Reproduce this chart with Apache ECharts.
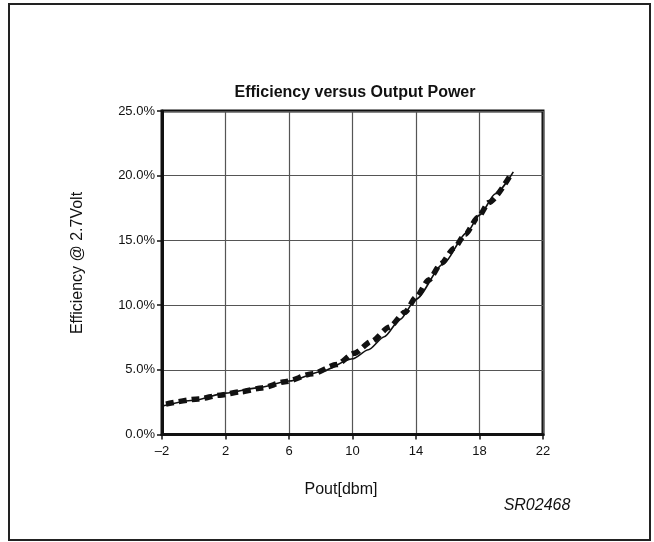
<!DOCTYPE html>
<html>
<head>
<meta charset="utf-8">
<script src="https://cdn.jsdelivr.net/npm/echarts@6/dist/echarts.min.js"></script>
<style>
  html, body { margin: 0; padding: 0; background: #fff; }
  #chart { width: 654px; height: 542px; }
</style>
</head>
<body>
<div id="chart"></div>
<script>
// measured curve (solid) and datasheet curve (thick dashed), efficiency in %
const solidPoints = [
  [-2.38, 2.07], [0, 2.65], [2, 3.2], [4, 3.6], [6, 4.13], [8, 4.85],
  [10, 5.85], [11, 6.55], [12, 7.55], [13, 8.9], [14, 10.45], [15.7, 13.16],
  [17.2, 15.6], [18, 16.95], [19, 18.6], [20.13, 20.3]
];
const dashedPoints = [
  [-1.75, 2.35], [0.3, 2.75], [1.65, 3.04], [2.95, 3.3], [4.3, 3.6],
  [5.75, 4.08], [7.5, 4.7], [9.0, 5.4], [10.1, 6.27], [11.2, 7.2],
  [12.3, 8.28], [13.3, 9.44], [14.0, 10.6], [14.8, 11.94], [15.6, 13.23],
  [16.4, 14.4], [17.1, 15.48], [17.9, 16.77], [18.6, 17.93], [19.9, 19.95]
];
const xTicks = { min: -2, max: 22, step: 4 };
const yTicks = { min: 0, max: 25, step: 5 };
const titleText = "Efficiency versus Output Power";
const xName = "Pout[dbm]";
const yName = "Efficiency @ 2.7Volt";
const figCode = "SR02468";

const chart = echarts.init(document.getElementById("chart"));
const font = "Liberation Sans, Arial, sans-serif";

chart.setOption({
  animation: false,
  backgroundColor: "#fff",
  title: {
    text: titleText,
    left: 350, top: 80,
    textAlign: "center",
    textStyle: { fontFamily: font, fontSize: 16, fontWeight: "bold", color: "#111" }
  },
  grid: {
    left: 162, right: 111, top: 111, bottom: 107.5,
    show: true, borderColor: "#111", borderWidth: 3
  },
  xAxis: {
    type: "value",
    min: xTicks.min, max: xTicks.max, interval: xTicks.step,
    axisLine: { onZero: false, lineStyle: { color: "#111", width: 3 } },
    axisTick: { show: true, length: 5, lineStyle: { color: "#111", width: 1.5 } },
    axisLabel: {
      margin: 10, fontFamily: font, fontSize: 13, color: "#111",
      formatter: (v) => (v < 0 ? "\u2013" + Math.abs(v) : String(v))
    },
    splitLine: { show: true, lineStyle: { color: "#555", width: 1.2 } }
  },
  yAxis: {
    type: "value",
    min: yTicks.min, max: yTicks.max, interval: yTicks.step,
    axisLine: { show: true, onZero: false, lineStyle: { color: "#111", width: 3 } },
    axisTick: { show: true, length: 5, lineStyle: { color: "#111", width: 1.5 } },
    axisLabel: {
      margin: 7, fontFamily: font, fontSize: 13, color: "#111",
      padding: [0, 0, 4, 0],
      formatter: (v) => v.toFixed(1) + "%"
    },
    splitLine: { show: true, lineStyle: { color: "#555", width: 1.2 } }
  },
  graphic: [
    {
      type: "rect",
      shape: { x: 9, y: 4, width: 641, height: 536 },
      style: { fill: "none", stroke: "#222", lineWidth: 2 }
    },
    {
      type: "text", x: 341, y: 490,
      style: { text: xName, fontFamily: font, fontSize: 16, fill: "#111", align: "center", verticalAlign: "middle" }
    },
    {
      type: "text", x: 78, y: 263, rotation: Math.PI / 2,
      style: { text: yName, fontFamily: font, fontSize: 16, fill: "#111", align: "center", verticalAlign: "middle" }
    },
    {
      type: "text", x: 537, y: 506,
      style: { text: figCode, fontFamily: font, fontSize: 16, fontStyle: "italic", fill: "#111", align: "center", verticalAlign: "middle" }
    }
  ],
  series: [
    {
      type: "line",
      data: solidPoints,
      smooth: 0.25,
      smoothMonotone: "x",
      showSymbol: false,
      clip: false,
      lineStyle: { color: "#111", width: 1.6 },
      z: 3
    },
    {
      type: "line",
      data: dashedPoints,
      smooth: 0.25,
      smoothMonotone: "x",
      showSymbol: false,
      clip: false,
      lineStyle: { color: "#111", width: 5.5, type: [8, 5], cap: "butt" },
      z: 4
    }
  ]
});
</script>
</body>
</html>
